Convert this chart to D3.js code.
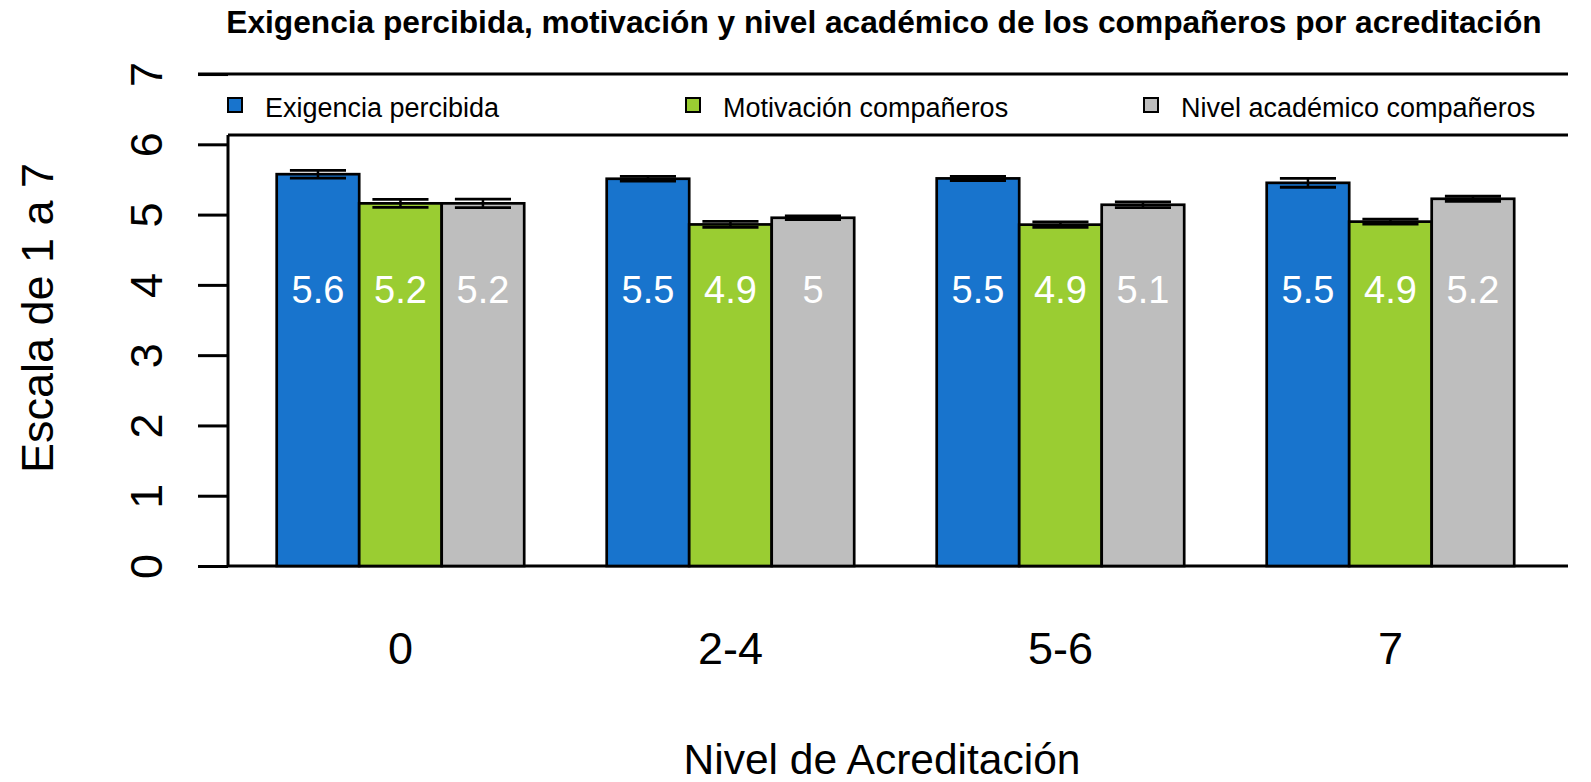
<!DOCTYPE html>
<html>
<head>
<meta charset="utf-8">
<script src="https://cdn.jsdelivr.net/npm/d3@7"></script>
<style>
  body { margin: 0; background: #fff; }
  text { font-family: "Liberation Sans", Arial, sans-serif; }
</style>
</head>
<body>
<script>
var categorias = ['0', '2-4', '5-6', '7'];
var series = ['Exigencia percibida', 'Motivación compañeros', 'Nivel académico compañeros'];
var exigencia = [5.575, 5.51, 5.515, 5.452];
var motivacion = [5.16, 4.86, 4.857, 4.90];
var nivel = [5.16, 4.955, 5.14, 5.225];
var seExigencia = [0.055, 0.035, 0.03, 0.063];
var seMotivacion = [0.057, 0.043, 0.04, 0.036];
var seNivel = [0.06, 0.025, 0.04, 0.036];
var yTicks = [0, 1, 2, 3, 4, 5, 6, 7];
var colores = ['#1874CD', '#9ACD32', '#BEBEBE'];

var medias = [exigencia, motivacion, nivel];
var errores = [seExigencia, seMotivacion, seNivel];

var data = [];
categorias.forEach(function(c, i) {
  series.forEach(function(s, j) {
    data.push({ cat: c, serie: s, media: medias[j][i], se: errores[j][i] });
  });
});

var W = 1591, H = 782;
var svg = d3.select('body').append('svg').attr('width', W).attr('height', H);

var y = d3.scaleLinear().domain([0, 7]).range([566, 74.04]);
var x0 = d3.scaleBand().domain(categorias).range([235.45, 1555.45])
  .paddingInner(0.25).paddingOuter(0.125);
var x1 = d3.scaleBand().domain(series).range([0, x0.bandwidth()]);
var color = d3.scaleOrdinal().domain(series).range(colores);

// titulo
svg.append('text')
   .attr('x', 884).attr('y', 33)
   .attr('text-anchor', 'middle')
   .attr('font-size', 31.7).attr('font-weight', 'bold')
   .text('Exigencia percibida, motivación y nivel académico de los compañeros por acreditación');

// lineas del marco / leyenda
var lineas = svg.append('g').attr('stroke', '#000').attr('stroke-width', 3);
lineas.append('line').attr('x1', 198).attr('x2', 1568).attr('y1', y(7)).attr('y2', y(7));
lineas.append('line').attr('x1', 228).attr('x2', 1568).attr('y1', 135).attr('y2', 135);
lineas.append('line').attr('x1', 228).attr('x2', 228).attr('y1', 135).attr('y2', y(0));
lineas.append('line').attr('x1', 228).attr('x2', 1568).attr('y1', y(0)).attr('y2', y(0));

// eje y
var ejeY = svg.append('g').attr('transform', 'translate(228,0)')
   .call(d3.axisLeft(y).tickValues(yTicks).tickFormat(d3.format('d')).tickSize(30));
ejeY.select('.domain').remove();
ejeY.selectAll('line').attr('stroke-width', 3);
ejeY.selectAll('text')
   .attr('transform', 'rotate(-90)')
   .attr('x', 0).attr('y', -66).attr('dy', 0)
   .attr('text-anchor', 'middle')
   .attr('font-size', 45).attr('fill', '#000')
   .attr('font-family', '"Liberation Sans", Arial, sans-serif');

// eje x
var ejeX = svg.append('g').attr('transform', 'translate(0,' + y(0) + ')')
   .call(d3.axisBottom(x0).tickSize(0));
ejeX.select('.domain').remove();
ejeX.selectAll('text')
   .attr('y', 98).attr('dy', 0)
   .attr('font-size', 45).attr('fill', '#000')
   .attr('font-family', '"Liberation Sans", Arial, sans-serif');

// barras
svg.selectAll('rect.barra')
   .data(data).enter().append('rect')
   .attr('class', 'barra')
   .attr('x', d => x0(d.cat) + x1(d.serie))
   .attr('y', d => y(d.media))
   .attr('width', x1.bandwidth())
   .attr('height', d => y(0) - y(d.media))
   .attr('fill', d => color(d.serie))
   .attr('stroke', '#000').attr('stroke-width', 2.7);

// errores
var cap = x1.bandwidth() * 0.34;
var eb = svg.selectAll('g.error').data(data).enter().append('g')
   .attr('class', 'error')
   .attr('transform', d => 'translate(' + (x0(d.cat) + x1(d.serie) + x1.bandwidth() / 2) + ',0)')
   .attr('stroke', '#000');
eb.append('line').attr('x1', 0).attr('x2', 0)
   .attr('y1', d => y(d.media + d.se)).attr('y2', d => y(d.media - d.se))
   .attr('stroke-width', 2.5);
eb.append('line').attr('x1', -cap).attr('x2', cap)
   .attr('y1', d => y(d.media + d.se)).attr('y2', d => y(d.media + d.se))
   .attr('stroke-width', 2.8);
eb.append('line').attr('x1', -cap).attr('x2', cap)
   .attr('y1', d => y(d.media - d.se)).attr('y2', d => y(d.media - d.se))
   .attr('stroke-width', 2.8);

// etiquetas de valor
svg.selectAll('text.valor')
   .data(data).enter().append('text')
   .attr('class', 'valor')
   .attr('x', d => x0(d.cat) + x1(d.serie) + x1.bandwidth() / 2)
   .attr('y', y(4) + 18)
   .attr('text-anchor', 'middle')
   .attr('font-size', 38).attr('fill', '#fff')
   .text(d => String(Math.round(d.media * 10) / 10));

// leyenda
var leyenda = svg.selectAll('g.leyenda')
   .data(series).enter().append('g')
   .attr('class', 'leyenda')
   .attr('transform', (d, i) => 'translate(' + (227 + i * 458) + ',97)');
leyenda.append('rect')
   .attr('x', 1).attr('y', 1).attr('width', 14).attr('height', 14)
   .attr('fill', d => color(d))
   .attr('stroke', '#000').attr('stroke-width', 2);
leyenda.append('text')
   .attr('x', 38).attr('y', 20)
   .attr('font-size', 27)
   .text(d => d);

// titulos de ejes
svg.append('text')
   .attr('x', 882).attr('y', 774)
   .attr('text-anchor', 'middle')
   .attr('font-size', 42.5)
   .text('Nivel de Acreditación');

svg.append('text')
   .attr('transform', 'translate(53,318) rotate(-90)')
   .attr('text-anchor', 'middle')
   .attr('font-size', 45)
   .text('Escala de 1 a 7');
</script>
</body>
</html>
